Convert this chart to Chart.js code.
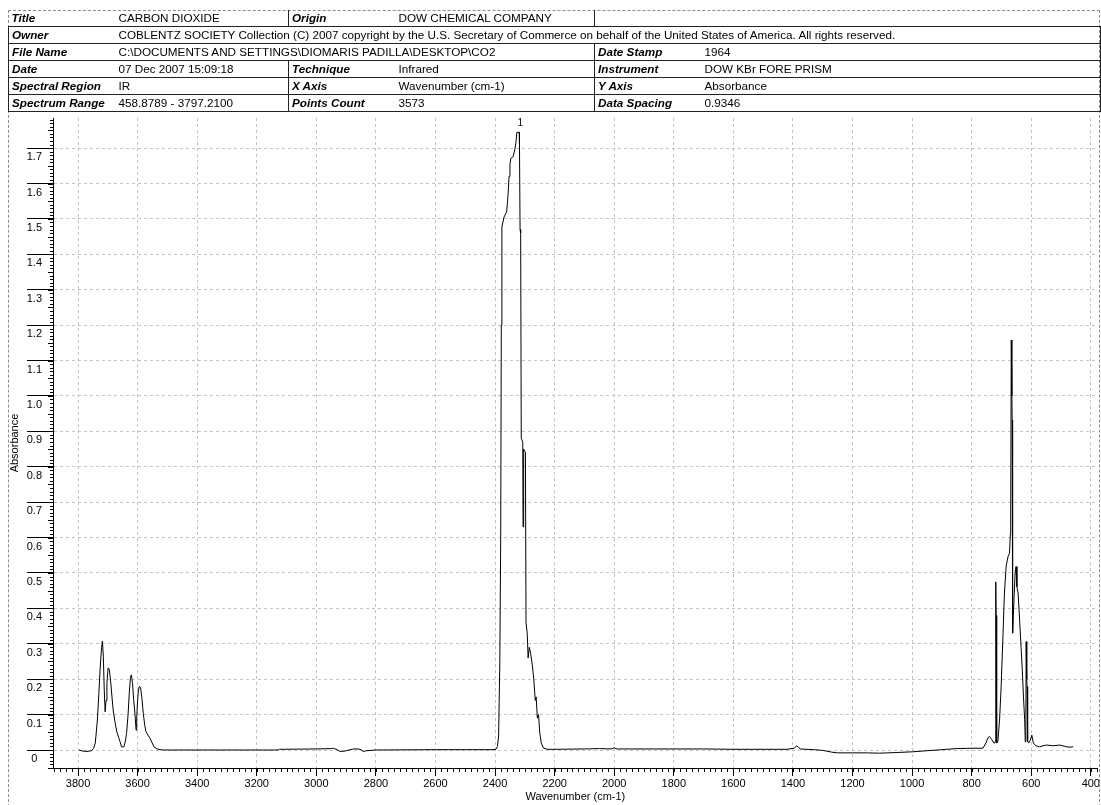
<!DOCTYPE html>
<html>
<head>
<meta charset="utf-8" />
<title>CARBON DIOXIDE</title>
<script src="https://cdn.jsdelivr.net/npm/chart.js@4.4.0/dist/chart.umd.min.js"></script>
<style>
  body { margin: 0; background: #fff; overflow: hidden; font-family: "Liberation Sans", Arial, sans-serif; }
  #wrap { position: relative; width: 1101px; height: 805px; overflow: hidden; }
  #spectrum { position: absolute; left: 0; top: 0; }
  #frame { position: absolute; left: 8px; top: 10px; width: 1090px; height: 900px; border: 1px dashed #8c8c8c; }
  #info { position: absolute; left: 8px; top: 10px; width: 1092px; border-collapse: collapse; table-layout: fixed; font-size: 11.7px; color: #000; }
  #info td { height: 16px; line-height: 16px; padding: 0 0 0 3px; white-space: nowrap; overflow: hidden; border-top: 1px solid #222; border-bottom: 1px solid #222; }
  #info td.k { font-weight: bold; font-style: italic; border-left: 1px solid #222; }
  #info td.last { border-right: 1px solid #222; }
  #info tr.first td { border-top: none; }
  #info td.blank { border: none; border-bottom: 1px solid #222; }
</style>
</head>
<body>
<div id="wrap">
  <canvas id="spectrum" width="1101" height="805"></canvas>
  <div id="frame"></div>
  <table id="info">
    <colgroup>
      <col style="width:107px"><col style="width:173px"><col style="width:107px">
      <col style="width:199px"><col style="width:107px"><col style="width:399px">
    </colgroup>
    <tr class="first">
      <td class="k" style="border-left:none">Title</td><td>CARBON DIOXIDE</td>
      <td class="k">Origin</td><td class="last">DOW CHEMICAL COMPANY</td>
      <td class="blank" colspan="2"></td>
    </tr>
    <tr>
      <td class="k">Owner</td>
      <td class="last" colspan="5">COBLENTZ SOCIETY Collection (C) 2007 copyright by the U.S. Secretary of Commerce on behalf of the United States of America. All rights reserved.</td>
    </tr>
    <tr>
      <td class="k">File Name</td><td colspan="3">C:\DOCUMENTS AND SETTINGS\DIOMARIS PADILLA\DESKTOP\CO2</td>
      <td class="k">Date Stamp</td><td class="last">1964</td>
    </tr>
    <tr>
      <td class="k">Date</td><td>07 Dec 2007 15:09:18</td>
      <td class="k">Technique</td><td>Infrared</td>
      <td class="k">Instrument</td><td class="last">DOW KBr FORE PRISM</td>
    </tr>
    <tr>
      <td class="k">Spectral Region</td><td>IR</td>
      <td class="k">X Axis</td><td>Wavenumber (cm-1)</td>
      <td class="k">Y Axis</td><td class="last">Absorbance</td>
    </tr>
    <tr>
      <td class="k">Spectrum Range</td><td>458.8789 - 3797.2100</td>
      <td class="k">Points Count</td><td>3573</td>
      <td class="k">Data Spacing</td><td class="last">0.9346</td>
    </tr>
  </table>
</div>
<script>
  // spectrum (cm-1, absorbance)
  var wavenumber = [
    3797, 3785, 3770, 3755, 3748, 3742, 3735, 3730, 3726, 3721, 3718, 3715, 3712, 3709, 3706, 3703,
    3699, 3695, 3690, 3686, 3682, 3676, 3670, 3664, 3659, 3654, 3646, 3641, 3637, 3632, 3628, 3624,
    3621, 3617, 3613, 3609, 3605, 3603, 3600, 3597, 3594, 3590, 3586, 3581, 3576, 3572, 3565, 3558,
    3551, 3545, 3535, 3525, 3514, 3300, 3128, 3124, 3000, 2950, 2943, 2930, 2921, 2904, 2890, 2876,
    2860, 2850, 2843, 2831, 2800, 2600, 2500, 2410, 2397, 2392, 2388, 2384, 2381, 2379, 2377, 2370,
    2364, 2361, 2358, 2356, 2353, 2350, 2347, 2339, 2334, 2330, 2327, 2319, 2318, 2316, 2314, 2312,
    2307, 2306, 2304, 2298, 2296, 2292, 2289, 2285, 2280, 2275, 2270, 2265, 2262, 2258, 2254, 2250,
    2245, 2238, 2225, 2200, 2100, 2050, 2010, 2000, 1990, 1900, 1800, 1700, 1600, 1500, 1420, 1395,
    1388, 1382, 1375, 1330, 1300, 1270, 1250, 1200, 1150, 1109, 1050, 997, 950, 900, 852, 800,
    762, 752, 745, 740, 733, 725, 721, 719, 718, 716, 712, 706, 701, 695, 690, 684,
    678, 673, 670, 669, 667, 665, 664, 663, 662, 660, 657, 654, 651, 648, 644, 639,
    634, 630, 626, 622, 620, 618, 617, 615, 614, 612, 608, 603, 598, 593, 585, 572,
    560, 549, 527, 504, 482, 470, 459
  ];
  var absorbance = [
    0.000, -0.003, -0.004, -0.002, 0.004, 0.020, 0.085, 0.160, 0.226, 0.290, 0.308, 0.264, 0.170, 0.108, 0.140, 0.190,
    0.232, 0.228, 0.190, 0.150, 0.113, 0.080, 0.052, 0.036, 0.024, 0.009, 0.009, 0.025, 0.047, 0.100, 0.160, 0.205,
    0.212, 0.188, 0.140, 0.104, 0.056, 0.090, 0.141, 0.170, 0.180, 0.176, 0.150, 0.104, 0.070, 0.052, 0.042, 0.033,
    0.020, 0.009, 0.003, 0.001, 0.000, 0.000, 0.000, 0.002, 0.003, 0.004, 0.005, 0.001, -0.004, -0.003, 0.000, 0.003,
    0.003, 0.001, -0.004, -0.002, 0.000, 0.001, 0.001, 0.001, 0.002, 0.010, 0.040, 0.250, 0.600, 1.200, 1.477, 1.505,
    1.515, 1.520, 1.550, 1.572, 1.620, 1.653, 1.671, 1.676, 1.695, 1.714, 1.744, 1.745, 1.710, 1.470, 1.460, 0.880,
    0.870, 0.630, 0.850, 0.840, 0.360, 0.330, 0.260, 0.290, 0.270, 0.240, 0.200, 0.140, 0.150, 0.090, 0.100, 0.050,
    0.020, 0.006, 0.002, 0.002, 0.003, 0.004, 0.003, 0.006, 0.003, 0.003, 0.003, 0.003, 0.002, 0.002, 0.002, 0.005,
    0.012, 0.008, 0.003, 0.001, -0.001, -0.006, -0.008, -0.008, -0.008, -0.009, -0.007, -0.005, -0.002, 0.001, 0.004, 0.005,
    0.005, 0.020, 0.035, 0.038, 0.030, 0.019, 0.022, 0.475, 0.380, 0.020, 0.023, 0.090, 0.179, 0.320, 0.443, 0.520,
    0.546, 0.556, 0.610, 0.631, 1.158, 1.000, 0.932, 0.600, 0.330, 0.380, 0.443, 0.500, 0.518, 0.461, 0.443, 0.367,
    0.290, 0.226, 0.150, 0.085, 0.023, 0.040, 0.306, 0.200, 0.179, 0.023, 0.020, 0.028, 0.042, 0.020, 0.012, 0.009,
    0.012, 0.014, 0.012, 0.014, 0.009, 0.008, 0.009
  ];

  var xTickValues = [3800, 3600, 3400, 3200, 3000, 2800, 2600, 2400, 2200, 2000, 1800, 1600, 1400, 1200, 1000, 800, 600, 400];
  var yTickValues = [0, 0.1, 0.2, 0.3, 0.4, 0.5, 0.6, 0.7, 0.8, 0.9, 1.0, 1.1, 1.2, 1.3, 1.4, 1.5, 1.6, 1.7];

  var peakX = [2322];
  var peakY = [1.745];
  var peakText = ['1'];

  var fontFamily = '"Liberation Sans", Arial, sans-serif';
  Chart.defaults.font.family = fontFamily;
  Chart.defaults.color = '#000';

  // small ticks between the labelled ones, plus the peak number
  var extras = {
    id: 'extras',
    afterDraw: function(chart) {
      var ctx = chart.ctx, x = chart.scales.x, y = chart.scales.y, area = chart.chartArea;
      ctx.save();
      ctx.strokeStyle = '#000';
      ctx.lineWidth = 1;
      ctx.beginPath();
      for (var v = Math.ceil(x.min / 20) * 20; v <= x.max; v += 20) {
        var px = Math.round(x.getPixelForValue(v)) + 0.5;
        ctx.moveTo(px, area.bottom);
        ctx.lineTo(px, area.bottom + 4);
      }
      for (var i = Math.ceil(y.min * 100); i <= Math.floor(y.max * 100); i++) {
        var py = Math.round(y.getPixelForValue(i / 100)) + 0.5;
        var len = (i % 5 === 0) ? 5 : 3;
        ctx.moveTo(area.left - len, py);
        ctx.lineTo(area.left, py);
      }
      ctx.stroke();

      ctx.fillStyle = '#000';
      ctx.font = '10px ' + fontFamily;
      ctx.textAlign = 'center';
      ctx.textBaseline = 'bottom';
      for (var k = 0; k < peakX.length; k++) {
        ctx.fillText(peakText[k], x.getPixelForValue(peakX[k]) + 2, y.getPixelForValue(peakY[k]) - 4);
      }
      ctx.restore();
    }
  };

  var points = wavenumber.map(function(w, i) { return { x: w, y: absorbance[i] }; });

  new Chart(document.getElementById('spectrum'), {
    type: 'line',
    data: {
      datasets: [{
        data: points,
        borderColor: '#000',
        borderWidth: 1,
        pointRadius: 0,
        tension: 0,
        fill: false
      }]
    },
    options: {
      responsive: false,
      animation: false,
      layout: { padding: { top: 118, right: 3, bottom: 0, left: 0 } },
      plugins: { legend: { display: false }, tooltip: { enabled: false } },
      scales: {
        x: {
          type: 'linear',
          reverse: true,
          min: 377,
          max: 3884,
          afterBuildTicks: function(s) { s.ticks = xTickValues.map(function(v) { return { value: v }; }); },
          afterFit: function(s) { s.height = 37; },
          ticks: { font: { size: 11 }, color: '#000', padding: 1, maxRotation: 0, autoSkip: false,
                   callback: function(v) { return String(v); } },
          grid: { color: '#c4c4c4', tickColor: '#000', tickLength: 8, tickBorderDash: [] },
          border: { color: '#000', dash: [3, 3] },
          title: { display: true, text: 'Wavenumber (cm-1)', font: { size: 11 }, color: '#000', padding: { top: 0, bottom: 1 } }
        },
        y: {
          min: -0.0508,
          max: 1.785,
          afterBuildTicks: function(s) { s.ticks = yTickValues.map(function(v) { return { value: v }; }); },
          afterFit: function(s) { s.width = 53; },
          ticks: { font: { size: 11 }, color: '#000', padding: -15, crossAlign: 'center', labelOffset: 9,
                   callback: function(v) { return v === 0 ? '0' : v.toFixed(1); } },
          grid: { color: '#c4c4c4', tickColor: '#000', tickLength: 26, tickBorderDash: [] },
          border: { color: '#000', dash: [3, 3] },
          title: { display: true, text: 'Absorbance', font: { size: 11 }, color: '#000', padding: { top: 8, bottom: 0 } }
        }
      }
    },
    plugins: [extras]
  });
</script>
</body>
</html>
